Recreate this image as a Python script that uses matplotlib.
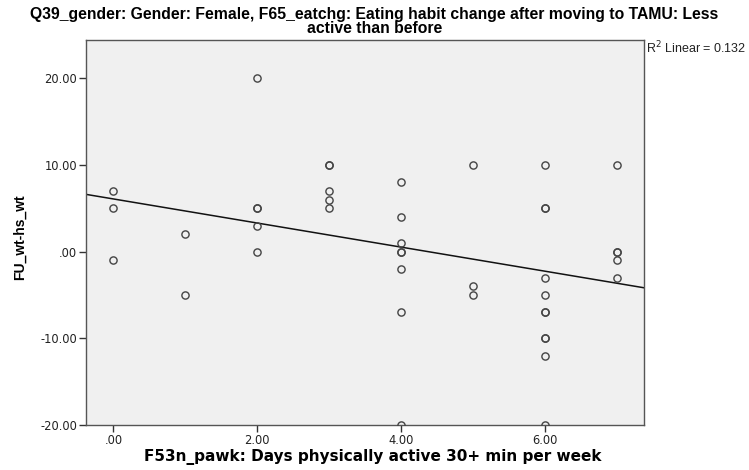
import numpy as np
import matplotlib
matplotlib.use("Agg")
import matplotlib.pyplot as plt

# Data (days active vs weight change)
days_0 = [7, 5, -1]
days_1 = [2, -5]
days_2 = [20, 5, 5, 3, 0]
days_3 = [10, 10, 7, 6, 5]
days_4 = [8, 4, 1, 0, 0, -2, -7, -20]
days_5 = [10, -4, -5]
days_6 = [10, 5, 5, -3, -5, -7, -7, -10, -10, -12, -20]
days_7 = [10, 0, 0, -1, -3]
groups = [days_0, days_1, days_2, days_3, days_4, days_5, days_6, days_7]

# Fit line as drawn in the reference
fit_intercept = 6.07
fit_slope = -1.39
r2_text = "R$^2$ Linear = 0.132"

x_ticks = [0, 2, 4, 6]
x_ticklabels = [".00", "2.00", "4.00", "6.00"]
y_ticks = [-20, -10, 0, 10, 20]
y_ticklabels = ["-20.00", "-10.00", ".00", "10.00", "20.00"]

title = ("Q39_gender: Gender: Female, F65_eatchg: Eating habit change after moving to TAMU: Less\n"
         "active than before")
xlabel = "F53n_pawk: Days physically active 30+ min per week"
ylabel = "FU_wt-hs_wt"

xs, ys = [], []
for day, vals in enumerate(groups):
    xs += [day] * len(vals)
    ys += vals

fig = plt.figure(figsize=(7.49, 4.70), dpi=100, facecolor="white")
ax = fig.add_axes([86 / 749, 1 - 425 / 470, 558 / 749, 385 / 470])
ax.set_facecolor("#f0f0f0")

ax.plot(xs, ys, linestyle="none", marker="o", markersize=5.2,
        markerfacecolor="none", markeredgecolor="#444444", markeredgewidth=1.0, zorder=3)

x_lo, x_hi = -0.38, 7.37
ax.set_xlim(x_lo, x_hi)
ax.set_ylim(-20, 24.4)

line_x = np.array([x_lo, x_hi])
ax.plot(line_x, fit_intercept + fit_slope * line_x, color="#111111", lw=1.1, zorder=2)

for spine in ax.spines.values():
    spine.set_color("#555555")
    spine.set_linewidth(1.0)

ax.set_xticks(x_ticks)
ax.set_xticklabels(x_ticklabels)
ax.set_yticks(y_ticks)
ax.set_yticklabels(y_ticklabels)
ax.tick_params(direction="out", length=5, width=1, color="#333333",
               labelsize=8.3, labelcolor="#222222", pad=1.5)
for lab in ax.get_xticklabels() + ax.get_yticklabels():
    lab.set_family("DejaVu Sans")

fig.text(0.5, 1 - 7 / 470, title, ha="center", va="top", fontsize=11.3,
         fontweight="bold", family="Liberation Sans", linespacing=0.88)
fig.text(373 / 749, 1 - 457 / 470, xlabel, ha="center", va="center", fontsize=11,
         fontweight="bold", family="DejaVu Sans")
fig.text(20 / 749, 1 - 237 / 470, ylabel, ha="center", va="center", rotation=90,
         fontsize=10, fontweight="bold", family="Liberation Sans")
fig.text(646 / 749, 1 - 40 / 470, r2_text, ha="left", va="top", fontsize=9,
         family="Liberation Sans", color="#222222")

fig.savefig("out.png", dpi=100, facecolor="white")
